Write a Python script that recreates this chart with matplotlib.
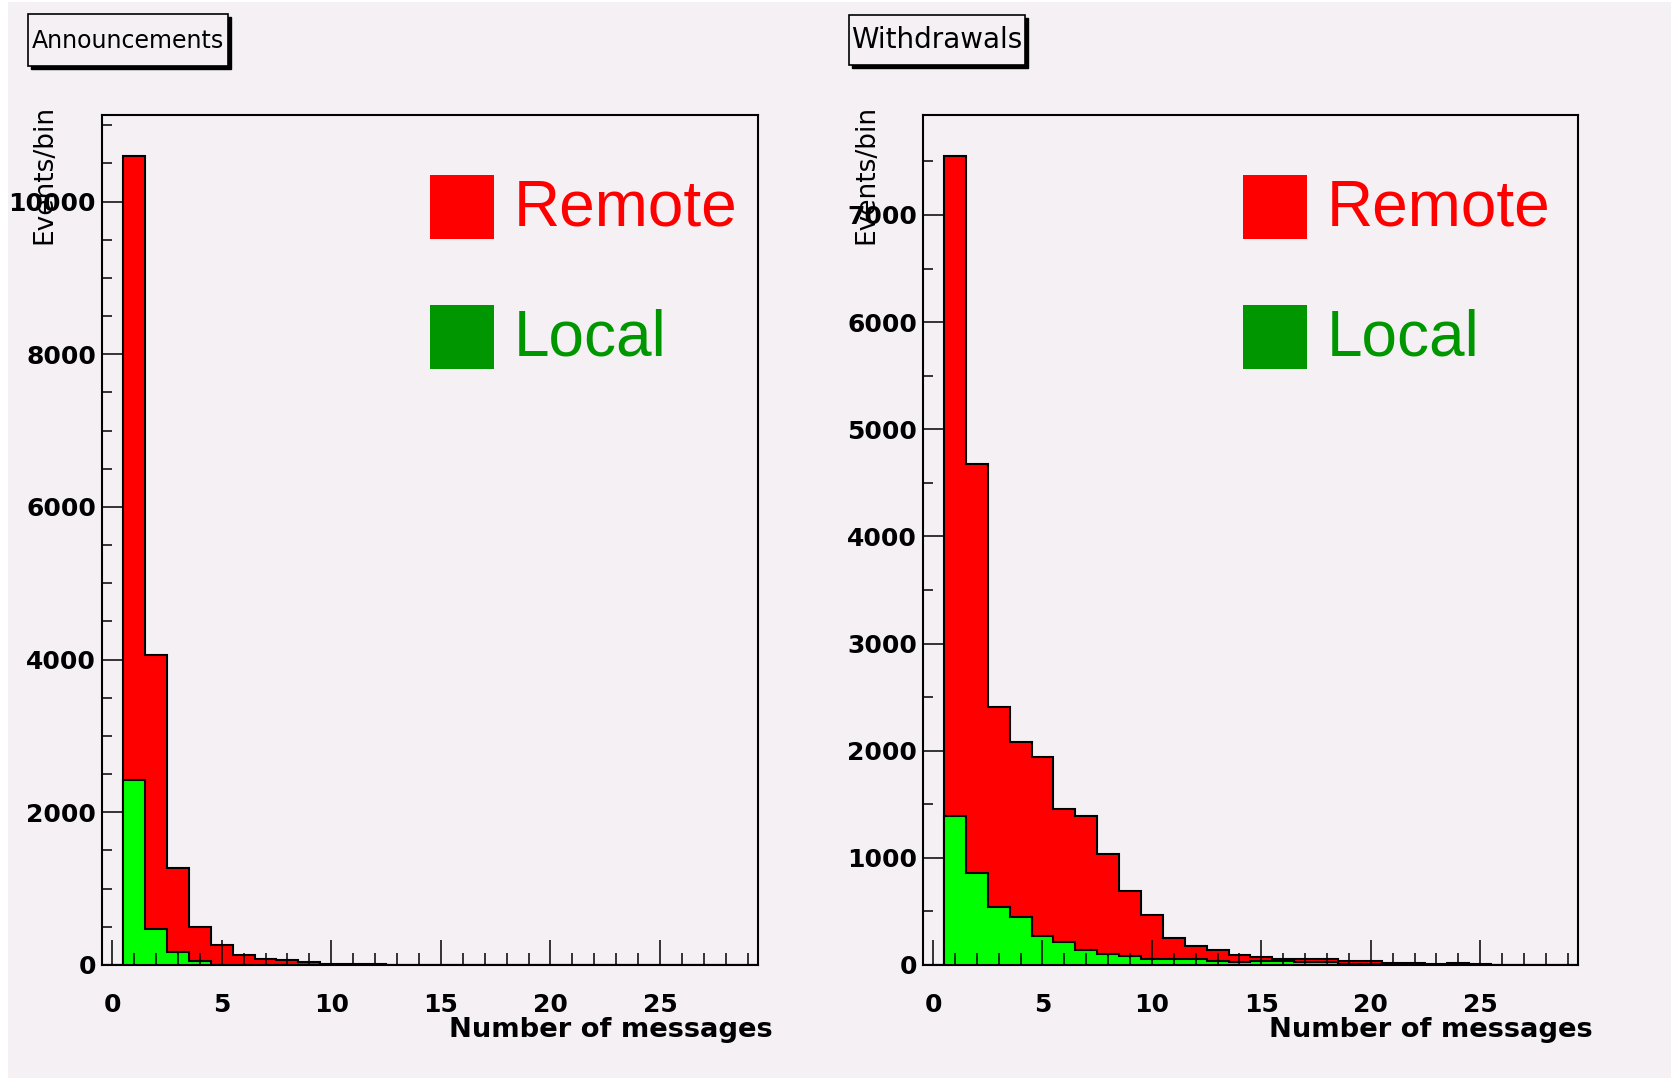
import matplotlib
matplotlib.use('Agg')
import matplotlib.pyplot as plt
from matplotlib.patches import Rectangle
import numpy as np

# Histogram data (bins centred on 0..29)
edges = np.arange(-0.5, 30.5, 1.0)

announce_remote = [0, 10600, 4060, 1275, 498, 258, 127, 83, 61, 39, 17, 13, 8, 0, 0,
                   0, 0, 0, 0, 0, 0, 0, 0, 0, 0, 0, 0, 0, 0, 0]
announce_local = [0, 2423, 476, 166, 57, 0, 0, 0, 0, 0, 0, 0, 0, 0, 0,
                  0, 0, 0, 0, 0, 0, 0, 0, 0, 0, 0, 0, 0, 0, 0]

withdraw_remote = [0, 7550, 4675, 2410, 2077, 1943, 1453, 1393, 1033, 687, 467, 253, 173, 143, 93,
                   77, 60, 60, 60, 37, 37, 23, 23, 10, 23, 5, 3, 3, 3, 0]
withdraw_local = [0, 1387, 857, 543, 450, 267, 217, 137, 107, 87, 60, 60, 60, 40, 30,
                  40, 40, 30, 30, 10, 10, 0, 0, 0, 0, 0, 0, 0, 0, 0]

titles = ['Announcements', 'Withdrawals']
W, H = 1671, 1081
bg = '#f4f0f4'

plt.rcParams['font.family'] = 'DejaVu Sans'

fig = plt.figure(figsize=(W / 100, H / 100), dpi=100, facecolor='white')


def frac(x, y):
    return x / W, 1 - y / H


# panel background
fig.patches.append(Rectangle((8 / W, 1 - 1078 / H), (W - 8) / W, 1076 / H,
                             transform=fig.transFigure, facecolor=bg,
                             edgecolor='none', zorder=-10))

panels = [
    dict(left=102, right=758, top=115, bottom=965, ymax=11133, ymaj=2000,
         remote=announce_remote, local=announce_local, title=titles[0],
         box=(28, 14, 228, 66), tsize=17, ylab_x=44, leg_x=430),
    dict(left=923, right=1578, top=115, bottom=965, ymax=7933, ymaj=1000,
         remote=withdraw_remote, local=withdraw_local, title=titles[1],
         box=(849, 15, 1025, 65), tsize=20, ylab_x=866, leg_x=1243),
]

for p in panels:
    x0, y0 = frac(p['left'], p['bottom'])
    ax = fig.add_axes([x0, y0, (p['right'] - p['left']) / W,
                       (p['bottom'] - p['top']) / H])
    ax.set_facecolor(bg)
    ax.stairs(p['remote'], edges, fill=True, facecolor='#ff0000',
              edgecolor='black', linewidth=1.5)
    ax.stairs(p['local'], edges, fill=True, facecolor='#00ff00',
              edgecolor='black', linewidth=1.5)
    ax.set_xlim(-0.46, 29.47)
    ax.set_ylim(0, p['ymax'])

    ax.set_xticks(np.arange(0, 30, 5))
    ax.set_xticks(np.arange(0, 30, 1), minor=True)
    ax.set_yticks(np.arange(0, p['ymax'], p['ymaj']))
    ax.set_yticks(np.arange(0, p['ymax'], 500), minor=True)
    ax.tick_params(axis='x', which='major', direction='in', length=18, width=1.1,
                   pad=20, labelsize=18, top=False)
    ax.tick_params(axis='x', which='minor', direction='in', length=8.6, width=1.1,
                   top=False)
    ax.tick_params(axis='y', which='major', direction='in', length=15, width=1.1,
                   pad=4.3, labelsize=18, right=False)
    ax.tick_params(axis='y', which='minor', direction='in', length=7.2, width=1.1,
                   right=False)
    for lbl in ax.get_xticklabels() + ax.get_yticklabels():
        lbl.set_fontweight('bold')
    for s in ax.spines.values():
        s.set_linewidth(1.5)
        s.set_zorder(5)

    # axis titles
    fig.text(*frac(p['ylab_x'], 105), 'Events/bin', rotation=90, ha='center',
             va='top', fontsize=19)
    fig.text(*frac(p['right'] + 15, 1037), 'Number of messages', ha='right',
             va='baseline', fontsize=19.7, fontweight='bold')

    # title box with shadow
    bx0, by0, bx1, by1 = p['box']
    fig.patches.append(Rectangle(frac(bx0 + 3, by1 + 3), (bx1 - bx0) / W,
                                 (by1 - by0) / H, transform=fig.transFigure,
                                 facecolor='black', edgecolor='black', zorder=1))
    fig.patches.append(Rectangle(frac(bx0, by1), (bx1 - bx0) / W,
                                 (by1 - by0) / H, transform=fig.transFigure,
                                 facecolor=bg, edgecolor='black', linewidth=1.2,
                                 zorder=2))
    fig.text(*frac((bx0 + bx1) / 2, 48), p['title'], ha='center', va='baseline',
             fontsize=p['tsize'], zorder=3)

    # legend
    lx = p['leg_x']
    for (sq_top, base, label, col) in [(175, 226, 'Remote', '#ff0000'),
                                       (305, 356, 'Local', '#009600')]:
        fig.patches.append(Rectangle(frac(lx, sq_top + 64), 64 / W, 64 / H,
                                     transform=fig.transFigure, facecolor=col,
                                     edgecolor='none', zorder=6))
        fig.text(*frac(lx + 84, base), label, ha='left', va='baseline',
                 fontsize=46, color=col, family=['Liberation Sans', 'DejaVu Sans'])

fig.savefig('out.png', dpi=100, facecolor=fig.get_facecolor())
